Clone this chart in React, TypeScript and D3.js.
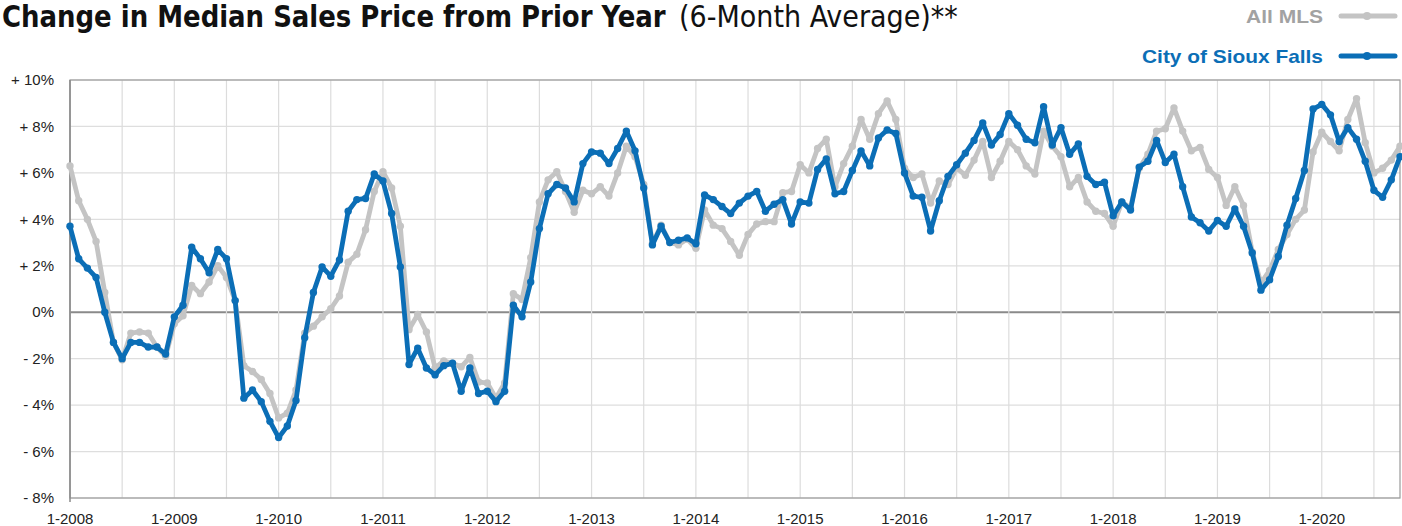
import React, { useLayoutEffect, useRef, useState } from "react";
import * as d3 from "d3";

// monthly values, 1-2008 .. 10-2020 (percent change, 6-month average)
const allMLS = [
  6.3, 4.8, 4.0, 3.05, 0.85, -1.3, -2.05, -0.9, -0.85, -0.9, -1.5, -1.9,
  -0.5, -0.15, 1.15, 0.8, 1.3, 2.0, 1.5, 0.5, -2.3, -2.55, -2.9, -3.5,
  -4.55, -4.35, -3.35, -0.9, -0.6, -0.2, 0.15, 0.7, 2.15, 2.5, 3.55, 5.2,
  6.05, 5.35, 3.7, -0.75, -0.1, -0.85, -2.4, -2.1, -2.2, -2.35, -1.95, -3.0,
  -3.05, -3.7, -3.05, 0.8, 0.55, 2.35, 4.75, 5.7, 6.05, 5.2, 4.3, 5.25,
  5.1, 5.4, 5.0, 6.0, 7.15, 6.7, 5.5, 2.95, 3.75, 3.0, 2.9, 3.15,
  2.75, 4.4, 3.75, 3.6, 3.05, 2.45, 3.35, 3.8, 3.9, 3.9, 5.15, 5.2,
  6.35, 6.0, 7.05, 7.45, 5.4, 6.4, 7.15, 8.3, 7.45, 8.55, 9.1, 8.3,
  6.2, 5.8, 5.95, 4.7, 5.65, 5.5, 6.2, 5.9, 6.55, 7.35, 5.8, 6.5,
  7.35, 7.0, 6.3, 5.95, 7.8, 7.15, 6.7, 5.4, 5.8, 4.75, 4.35, 4.25,
  3.7, 4.75, 4.5, 6.2, 6.8, 7.8, 7.9, 8.8, 7.8, 6.95, 7.1, 6.15,
  5.8, 4.6, 5.4, 4.6, 2.6, 1.25, 1.8, 2.7, 3.35, 4.0, 4.4, 6.9,
  7.75, 7.35, 6.95, 8.3, 9.2, 7.3, 6.0, 6.2, 6.55, 7.15,
];

const siouxFalls = [
  3.7, 2.3, 1.9, 1.5, 0.0, -1.3, -2.0, -1.3, -1.3, -1.5, -1.5, -1.8,
  -0.2, 0.3, 2.8, 2.3, 1.7, 2.7, 2.3, 0.5, -3.7, -3.35, -3.85, -4.7,
  -5.4, -4.9, -3.8, -1.1, 0.85, 1.95, 1.55, 2.25, 4.35, 4.85, 4.9, 5.95,
  5.65, 4.25, 1.95, -2.25, -1.55, -2.4, -2.7, -2.3, -2.2, -3.4, -2.4, -3.5,
  -3.4, -3.85, -3.4, 0.3, -0.2, 1.3, 3.6, 5.1, 5.5, 5.35, 4.75, 6.4,
  6.9, 6.85, 6.4, 7.05, 7.8, 6.95, 5.35, 2.9, 3.7, 3.0, 3.1, 3.2,
  2.95, 5.05, 4.85, 4.55, 4.25, 4.7, 5.0, 5.2, 4.35, 4.65, 4.85, 3.8,
  4.75, 4.7, 6.15, 6.6, 5.1, 5.2, 6.1, 6.95, 6.3, 7.5, 7.85, 7.7,
  6.0, 5.0, 4.95, 3.5, 4.8, 5.85, 6.35, 6.85, 7.4, 8.15, 7.2, 7.65,
  8.55, 8.05, 7.45, 7.3, 8.85, 7.2, 7.95, 6.8, 7.25, 5.85, 5.5, 5.6,
  4.15, 4.75, 4.4, 6.25, 6.5, 7.4, 6.45, 6.8, 5.4, 4.1, 3.85, 3.5,
  3.95, 3.7, 4.45, 3.7, 2.55, 0.95, 1.4, 2.4, 3.75, 4.9, 6.1, 8.75,
  8.95, 8.5, 7.35, 7.95, 7.45, 6.5, 5.25, 4.95, 5.7, 6.7,
];

const yearLabels = [
  "1-2008", "1-2009", "1-2010", "1-2011", "1-2012", "1-2013", "1-2014",
  "1-2015", "1-2016", "1-2017", "1-2018", "1-2019", "1-2020",
];

const yTicks = [-8, -6, -4, -2, 0, 2, 4, 6, 8, 10];

const GRAY = "#c4c4c4";
const BLUE = "#0b6eb6";

const W = 1402;
const H = 526;
const margin = { top: 80, right: 2, bottom: 28, left: 70 };

function fmtPct(v: number) {
  if (v === 0) return "0%";
  return (v > 0 ? "+ " : "- ") + Math.abs(v) + "%";
}

export default function App() {
  const n = siouxFalls.length;
  const x = d3.scaleLinear().domain([0, n - 1]).range([margin.left, W - margin.right]);
  const y = d3.scaleLinear().domain([-8, 10]).range([H - margin.bottom, margin.top]);

  const line = d3.line<number>()
    .x((_, i) => x(i))
    .y(d => y(d));

  const halfYears = d3.range(0, n, 6);

  const series = [
    { name: "All MLS", values: allMLS, color: GRAY, text: "#a2a2a2", ly: 16, tx: 1246, tl: 77 },
    { name: "City of Sioux Falls", values: siouxFalls, color: BLUE, text: BLUE, ly: 56, tx: 1142, tl: 181 },
  ];

  const font = "'Liberation Sans', Arial, Helvetica, sans-serif";
  const narrow = "'Liberation Sans Narrow', 'DejaVu Sans Condensed', 'Liberation Sans', sans-serif";

  // squeeze the title horizontally to the reference widths (condensed face)
  const boldRef = useRef<SVGTextElement>(null);
  const regRef = useRef<SVGTextElement>(null);
  const [sc, setSc] = useState([1, 1]);
  useLayoutEffect(() => {
    const a = boldRef.current ? boldRef.current.getComputedTextLength() : 664;
    const b = regRef.current ? regRef.current.getComputedTextLength() : 279;
    setSc([664 / a, 279 / b]);
  }, []);

  return (
    <svg width={W} height={H} style={{ position: "absolute", left: 0, top: 0, background: "#fff" }}>
      {/* title */}
      <g transform={`translate(2,27) scale(${sc[0]},1)`}>
        <text ref={boldRef} x={0} y={0} fontFamily={narrow} fontSize={31} fontWeight="bold" fill="#111">
          Change in Median Sales Price from Prior Year
        </text>
      </g>
      <g transform={`translate(679,27) scale(${sc[1]},1)`}>
        <text ref={regRef} x={0} y={0} fontFamily={narrow} fontSize={31} fill="#111">
          (6-Month Average)**
        </text>
      </g>

      {/* legend */}
      {series.map(s => (
        <g key={s.name}>
          <text x={s.tx} y={s.ly + 7} fontFamily={font} fontWeight="bold"
            fontSize={19} fill={s.text} textLength={s.tl} lengthAdjust="spacingAndGlyphs">{s.name}</text>
          <line x1={1341} x2={1395} y1={s.ly} y2={s.ly} stroke={s.color} strokeWidth={5} strokeLinecap="round" />
          <circle cx={1367} cy={s.ly} r={4} fill={s.color} />
        </g>
      ))}

      {/* grid */}
      {yTicks.map(t => (
        <line key={"h" + t} x1={margin.left} x2={W - margin.right} y1={y(t)} y2={y(t)}
          stroke={t === 0 ? "#8a8a8a" : "#dedede"} strokeWidth={t === 0 ? 2 : 1.2} />
      ))}
      {halfYears.map(i => (
        <line key={"v" + i} x1={x(i)} x2={x(i)} y1={margin.top} y2={H - margin.bottom}
          stroke="#dcdcdc" strokeWidth={1.2} />
      ))}
      <rect x={margin.left} y={margin.top} width={W - margin.right - margin.left}
        height={H - margin.bottom - margin.top} fill="none" stroke="#9a9a9a" strokeWidth={1.2} />
      <line x1={margin.left} x2={margin.left} y1={margin.top} y2={H - margin.bottom + 4} stroke="#8a8a8a" strokeWidth={1.5} />

      {/* y labels */}
      {yTicks.map(t => (
        <text key={"yl" + t} x={54} y={y(t)} dy="0.35em" textAnchor="end"
          fontFamily={font} fontSize={15} fill="#222">{fmtPct(t)}</text>
      ))}

      {/* x labels */}
      {yearLabels.map((lab, k) => (
        <text key={lab} x={x(k * 12)} y={524} textAnchor="middle"
          fontFamily={font} fontSize={15} fill="#222">{lab}</text>
      ))}

      {/* series */}
      {series.map(s => (
        <g key={s.name}>
          <path d={line(s.values) || ""} fill="none" stroke={s.color} strokeWidth={4.8}
            strokeLinejoin="round" />
          {s.values.map((v, i) => (
            <circle key={i} cx={x(i)} cy={y(v)} r={3.7} fill={s.color} />
          ))}
        </g>
      ))}
    </svg>
  );
}
